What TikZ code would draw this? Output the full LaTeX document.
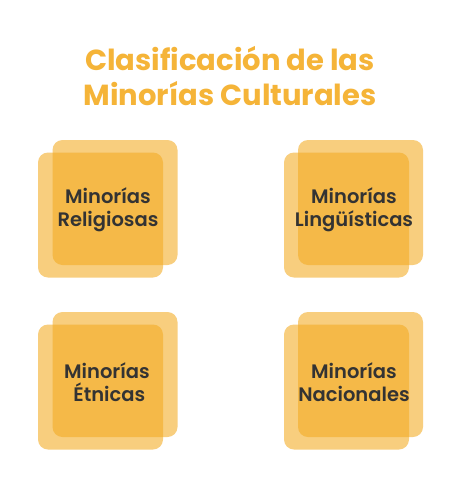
\documentclass[tikz,border=0pt]{standalone}
\usepackage{fontspec}
\setmainfont{Poppins}
\newfontfamily\titlefont{Poppins Bold}
\newfontfamily\boxfont{Poppins SemiBold}
\definecolor{gold}{RGB}{243,171,33}
\definecolor{titlecol}{RGB}{245,180,56}
\definecolor{txt}{RGB}{51,51,51}
\begin{document}
\begin{tikzpicture}[x=1pt,y=-1pt,
  sq/.style={fill=gold,fill opacity=0.58,draw=none,rounded corners=10pt,minimum width=125pt,minimum height=125pt,inner sep=0pt},
  lbl/.style={text=txt,font=\boxfont\fontsize{19.5}{23}\selectfont,align=center},
  ttl/.style={text=titlecol,font=\titlefont\fontsize{29}{35}\selectfont,align=center}]
\useasboundingbox (0,0) rectangle (470,477);
\fill[white] (0,0) rectangle (470,477);
\node[ttl] (title) at (230,76) {Clasificación de las\\Minorías Culturales};
% top-left
\node[sq] (b1) at (115,202.5) {};
\node[sq] (f1) at (100.5,215) {};
\node[lbl] (t1) at (108,210) {Minorías\\Religiosas};
% top-right
\node[sq] (b2) at (360.5,202.5) {};
\node[sq] (f2) at (346.5,215) {};
\node[lbl] (t2) at (354,210) {Minorías\\Lingüísticas};
% bottom-left
\node[sq] (b3) at (115,374.5) {};
\node[sq] (f3) at (100.5,387) {};
\node[lbl] (t3) at (107,382) {Minorías\\\ Étnicas};
% bottom-right
\node[sq] (b4) at (360.5,374.5) {};
\node[sq] (f4) at (346.5,387) {};
\node[lbl] (t4) at (354,382) {Minorías\\Nacionales};
\end{tikzpicture}
\end{document}
